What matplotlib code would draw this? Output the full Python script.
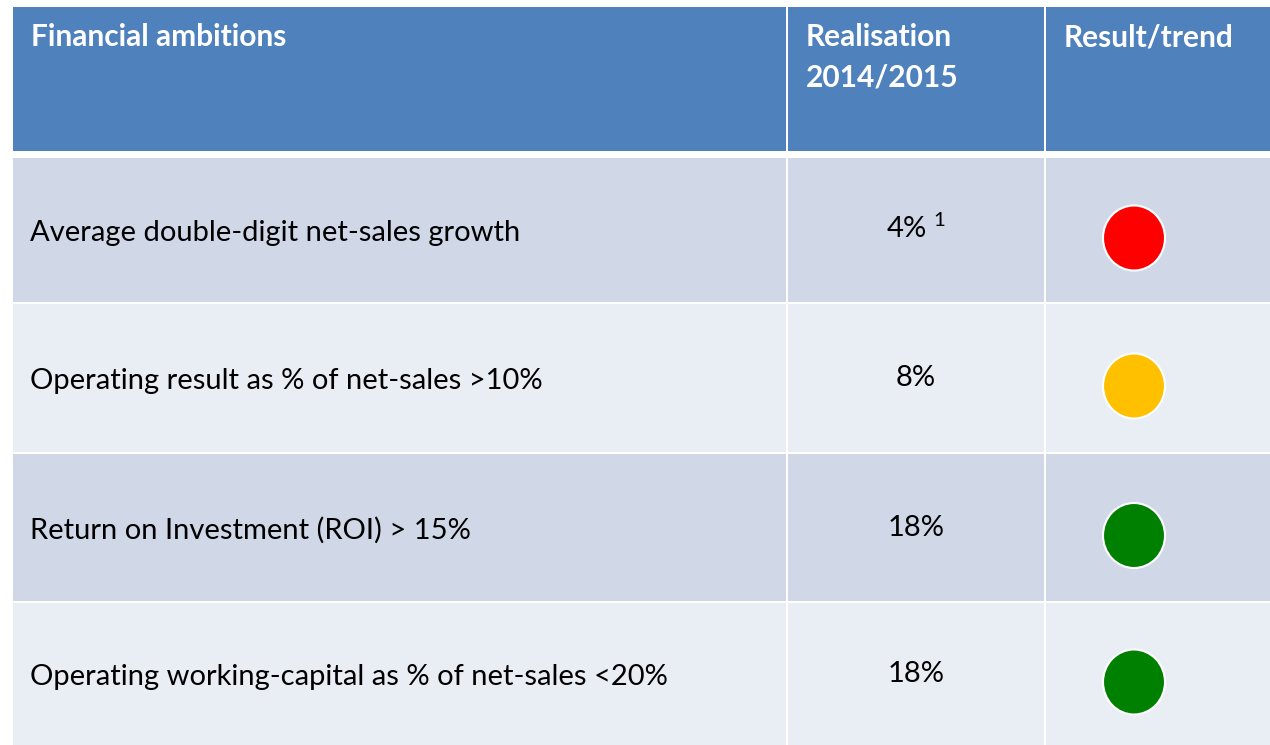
import matplotlib.pyplot as plt
from matplotlib.patches import Rectangle, Ellipse

# table content
headers = ['Financial ambitions', 'Realisation\n2014/2015', 'Result/trend']
ambitions = ['Average double-digit net-sales growth',
             'Operating result as % of net-sales >10%',
             'Return on Investment (ROI) > 15%',
             'Operating working-capital as % of net-sales <20%']
realisation = ['4%', '8%', '18%', '18%']
footnotes = ['1', '', '', '']
status = ['red', 'amber', 'green', 'green']

status_colors = {'red': '#FF0000', 'amber': '#FFC000', 'green': '#008000'}

# layout in pixels
W, H = 1270, 745
col_edges = [12, 787, 1045, 1275]
head_top, head_bot = 7, 151
row_edges = [157, 303, 453, 602, 746]
band_colors = ['#D0D8E8', '#E9EDF4']
head_color = '#4F81BD'
gap = 1.2

plt.rcParams['font.family'] = ['Lato', 'DejaVu Sans']
plt.rcParams['mathtext.fontset'] = 'custom'
plt.rcParams['mathtext.rm'] = 'Lato'
plt.rcParams['mathtext.default'] = 'rm'

fig = plt.figure(figsize=(W / 100, H / 100), dpi=100)
ax = fig.add_axes([0, 0, 1, 1])
ax.set_xlim(0, W)
ax.set_ylim(H, 0)
ax.axis('off')

# header cells
for c in range(3):
    x0, x1 = col_edges[c] + gap, col_edges[c + 1] - gap
    ax.add_patch(Rectangle((x0, head_top), x1 - x0, head_bot - head_top,
                           facecolor=head_color, edgecolor='none'))
    for i, line in enumerate(headers[c].split('\n')):
        ax.text(col_edges[c] + 19, 46 + i * 41, line, color='white',
                fontsize=21.5, fontweight='bold', ha='left', va='baseline')

# body rows
for r in range(len(ambitions)):
    y0, y1 = row_edges[r] + gap, row_edges[r + 1] - gap
    yc = (row_edges[r] + row_edges[r + 1]) / 2
    for c in range(3):
        x0, x1 = col_edges[c] + gap, col_edges[c + 1] - gap
        ax.add_patch(Rectangle((x0, y0), x1 - x0, y1 - y0,
                               facecolor=band_colors[r % 2], edgecolor='none'))
    ax.text(col_edges[0] + 18, yc + 11, ambitions[r], color='black',
            fontsize=21, ha='left', va='baseline')
    xm = (col_edges[1] + col_edges[2]) / 2
    label = realisation[r]
    if footnotes[r]:
        label = label + ' $^{' + footnotes[r] + '}$'
    ax.text(xm, yc + 8, label, color='black', fontsize=21,
            ha='center', va='baseline')
    ax.add_patch(Ellipse((1134, yc + 8), 62, 65,
                         facecolor=status_colors[status[r]],
                         edgecolor='white', linewidth=1.5))

fig.savefig('out.png', dpi=100, facecolor='white')
